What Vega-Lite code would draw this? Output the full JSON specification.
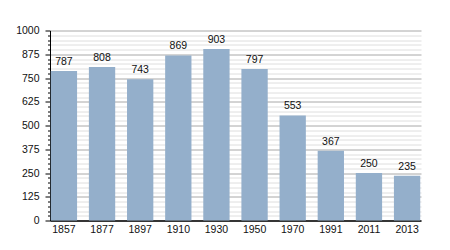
{
  "$schema": "https://vega.github.io/schema/vega-lite/v6.json",
  "autosize": "none",
  "width": 371,
  "height": 190,
  "padding": {"left": 50, "top": 30.5, "right": 29, "bottom": 29.5},
  "background": "white",
  "config": {
    "view": {"stroke": null},
    "font": "Liberation Sans",
    "axis": {"labelFont": "Liberation Sans", "labelColor": "#111", "labelFontSize": 10}
  },
  "data": {"values": [
    {"year": "1857", "pop": 787},
    {"year": "1877", "pop": 808},
    {"year": "1897", "pop": 743},
    {"year": "1910", "pop": 869},
    {"year": "1930", "pop": 903},
    {"year": "1950", "pop": 797},
    {"year": "1970", "pop": 553},
    {"year": "1991", "pop": 367},
    {"year": "2011", "pop": 250},
    {"year": "2013", "pop": 235}
  ]},
  "encoding": {
    "x": {
      "field": "year", "type": "ordinal", "sort": null,
      "scale": {"paddingInner": 0.31, "paddingOuter": 0.02},
      "axis": {"title": null, "labelAngle": 0, "ticks": false, "domainColor": "#000", "domainWidth": 1.5, "labelPadding": 4, "labelFontSize": 10.5}
    },
    "y": {
      "field": "pop", "type": "quantitative",
      "scale": {"domain": [0, 1000], "nice": false},
      "axis": {
        "title": null,
        "format": "d",
        "values": [0,25,50,75,100,125,150,175,200,225,250,275,300,325,350,375,400,425,450,475,500,525,550,575,600,625,650,675,700,725,750,775,800,825,850,875,900,925,950,975,1000],
        "labelExpr": "datum.value % 125 === 0 ? datum.label : ''",
        "grid": true,
        "gridColor": {"condition": {"test": "datum.value % 125 === 0", "value": "#a8a8a8"}, "value": "#dedede"},
        "tickColor": "#000",
        "tickSize": {"condition": {"test": "datum.value % 125 === 0", "value": 5}, "value": 2.5},
        "labelPadding": 6,
        "labelFontSize": 10.5,
        "domainColor": "#000",
        "domainWidth": 1,
        "labelOverlap": false
      }
    }
  },
  "layer": [
    {"mark": {"type": "bar", "color": "#94afcb"}},
    {"mark": {"type": "text", "baseline": "bottom", "dy": -4, "fontSize": 10.5, "color": "#111", "font": "Liberation Sans"},
     "encoding": {"text": {"field": "pop", "type": "quantitative", "format": "d"}}}
  ]
}
